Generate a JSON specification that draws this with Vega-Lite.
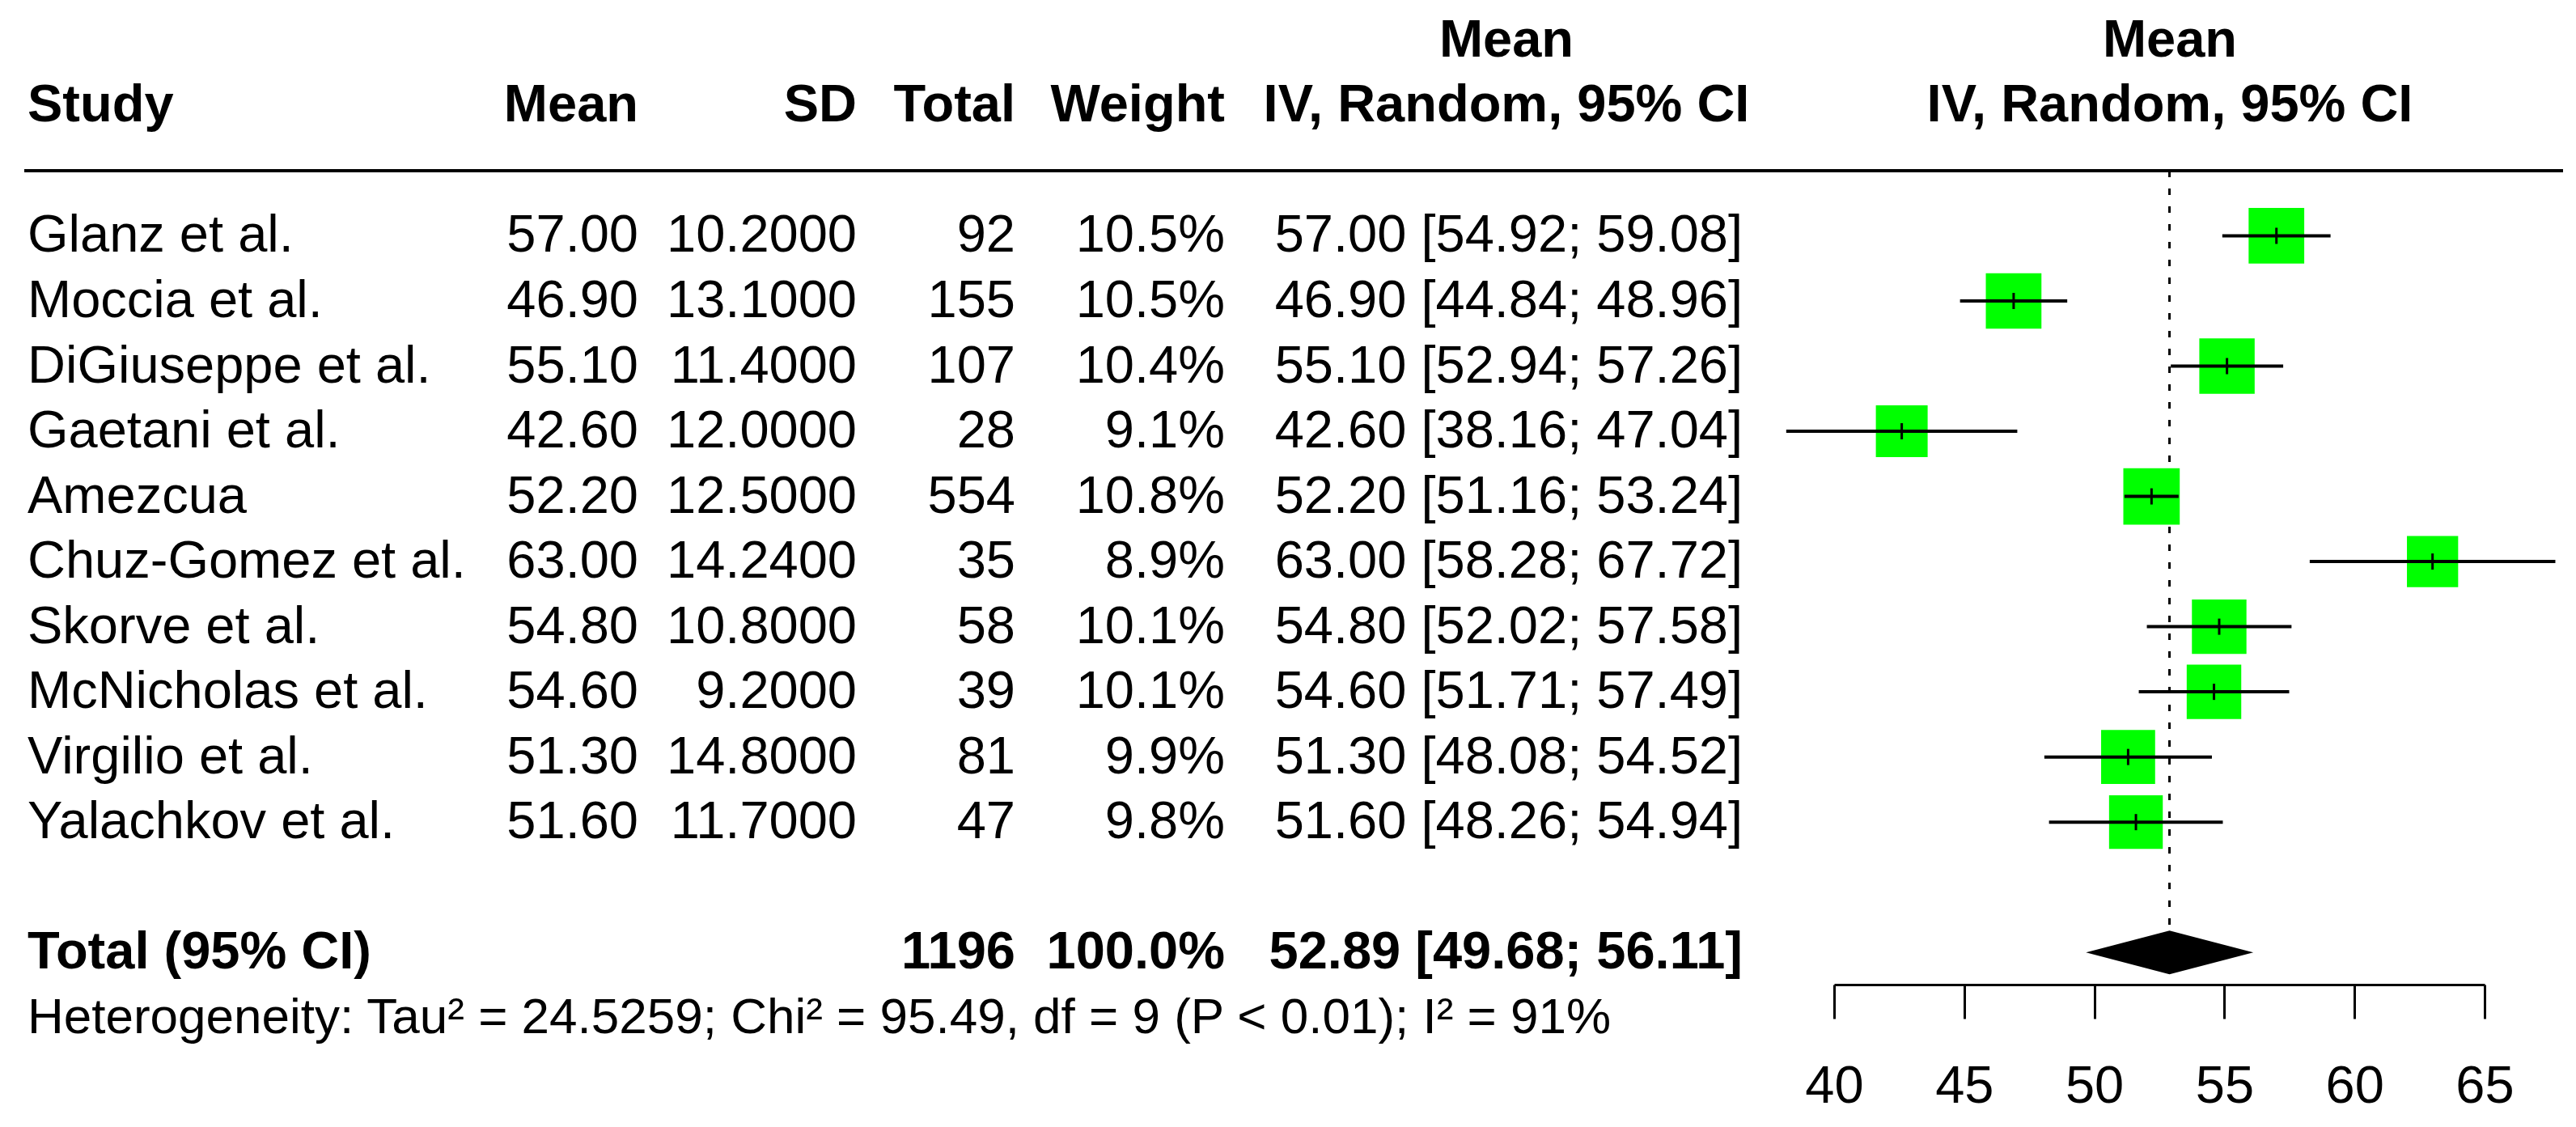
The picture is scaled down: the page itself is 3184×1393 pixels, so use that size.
{
  "$schema": "https://vega.github.io/schema/vega-lite/v6.json",
  "width": 3184,
  "height": 1393,
  "autosize": {"type": "fit", "contains": "padding"},
  "padding": {"left": 28, "right": 14, "top": 0, "bottom": 0},
  "background": "white",
  "config": {
    "view": {"stroke": null},
    "text": {"font": "Liberation Sans", "fontSize": 65, "color": "black"}
  },
  "datasets": {
    "studies": [
      {"study": "Glanz et al.", "mean": 57.00, "sd": 10.2, "n": 92, "weight": 0.105, "lo": 54.92, "hi": 59.08, "ci": "57.00 [54.92; 59.08]", "row": 0},
      {"study": "Moccia et al.", "mean": 46.90, "sd": 13.1, "n": 155, "weight": 0.105, "lo": 44.84, "hi": 48.96, "ci": "46.90 [44.84; 48.96]", "row": 1},
      {"study": "DiGiuseppe et al.", "mean": 55.10, "sd": 11.4, "n": 107, "weight": 0.104, "lo": 52.94, "hi": 57.26, "ci": "55.10 [52.94; 57.26]", "row": 2},
      {"study": "Gaetani et al.", "mean": 42.60, "sd": 12.0, "n": 28, "weight": 0.091, "lo": 38.16, "hi": 47.04, "ci": "42.60 [38.16; 47.04]", "row": 3},
      {"study": "Amezcua", "mean": 52.20, "sd": 12.5, "n": 554, "weight": 0.108, "lo": 51.16, "hi": 53.24, "ci": "52.20 [51.16; 53.24]", "row": 4},
      {"study": "Chuz-Gomez et al.", "mean": 63.00, "sd": 14.24, "n": 35, "weight": 0.089, "lo": 58.28, "hi": 67.72, "ci": "63.00 [58.28; 67.72]", "row": 5},
      {"study": "Skorve et al.", "mean": 54.80, "sd": 10.8, "n": 58, "weight": 0.101, "lo": 52.02, "hi": 57.58, "ci": "54.80 [52.02; 57.58]", "row": 6},
      {"study": "McNicholas et al.", "mean": 54.60, "sd": 9.2, "n": 39, "weight": 0.101, "lo": 51.71, "hi": 57.49, "ci": "54.60 [51.71; 57.49]", "row": 7},
      {"study": "Virgilio et al.", "mean": 51.30, "sd": 14.8, "n": 81, "weight": 0.099, "lo": 48.08, "hi": 54.52, "ci": "51.30 [48.08; 54.52]", "row": 8},
      {"study": "Yalachkov et al.", "mean": 51.60, "sd": 11.7, "n": 47, "weight": 0.098, "lo": 48.26, "hi": 54.94, "ci": "51.60 [48.26; 54.94]", "row": 9}
    ],
    "pooled": [
      {"label": "Total (95% CI)", "n": 1196, "weight": 1.0, "mean": 52.89, "lo": 49.68, "hi": 56.11, "ci": "52.89 [49.68; 56.11]", "row": 11}
    ],
    "diamond": [
      {"v": 49.68, "top": 11, "bottom": 11},
      {"v": 52.89, "top": 10.665, "bottom": 11.335},
      {"v": 56.11, "top": 11, "bottom": 11}
    ],
    "labels": [
      {"row": -2, "c": 0, "t": "Study", "part": "head"},
      {"row": -2, "c": 1, "t": "Mean", "part": "head"},
      {"row": -2, "c": 2, "t": "SD", "part": "head"},
      {"row": -2, "c": 3, "t": "Total", "part": "head"},
      {"row": -2, "c": 4, "t": "Weight", "part": "head"},
      {"row": -3, "c": 5, "t": "Mean", "part": "head"},
      {"row": -2, "c": 5, "t": "IV, Random, 95% CI", "part": "head"},
      {"row": -3, "c": 7, "t": "Mean", "part": "head"},
      {"row": -2, "c": 7, "t": "IV, Random, 95% CI", "part": "head"},
      {"row": 12, "c": 0, "t": "Heterogeneity: Tau² = 24.5259; Chi² = 95.49, df = 9 (P < 0.01); I² = 91%", "part": "note"}
    ]
  },
  "layer": [
    {
      "layer": [
        {
          "data": {"name": "studies"},
          "mark": {"type": "text", "align": "left"},
          "encoding": {
            "x": {"datum": 0, "type": "quantitative", "scale": {"domain": [0, 1, 2, 3, 4, 5, 6, 7], "range": [4, 759, 1029, 1225, 1484, 1832, 2124, 2652], "nice": false, "zero": false}, "axis": null},
            "y": {"field": "row", "type": "quantitative", "scale": {"domain": [-3.62, 13.68], "reverse": true, "nice": false, "zero": false}, "axis": null},
            "text": {"field": "study", "type": "nominal"}
          }
        },
        {
          "data": {"name": "studies"},
          "mark": {"type": "text", "align": "right"},
          "encoding": {
            "x": {"datum": 1, "type": "quantitative", "axis": null},
            "y": {"field": "row", "type": "quantitative", "axis": null},
            "text": {"field": "mean", "type": "quantitative", "format": ".2f"}
          }
        },
        {
          "data": {"name": "studies"},
          "mark": {"type": "text", "align": "right"},
          "encoding": {
            "x": {"datum": 2, "type": "quantitative", "axis": null},
            "y": {"field": "row", "type": "quantitative", "axis": null},
            "text": {"field": "sd", "type": "quantitative", "format": ".4f"}
          }
        },
        {
          "data": {"name": "studies"},
          "mark": {"type": "text", "align": "right"},
          "encoding": {
            "x": {"datum": 3, "type": "quantitative", "axis": null},
            "y": {"field": "row", "type": "quantitative", "axis": null},
            "text": {"field": "n", "type": "quantitative", "format": "d"}
          }
        },
        {
          "data": {"name": "studies"},
          "mark": {"type": "text", "align": "right"},
          "encoding": {
            "x": {"datum": 4, "type": "quantitative", "axis": null},
            "y": {"field": "row", "type": "quantitative", "axis": null},
            "text": {"field": "weight", "type": "quantitative", "format": ".1%"}
          }
        },
        {
          "data": {"name": "studies"},
          "mark": {"type": "text", "align": "right"},
          "encoding": {
            "x": {"datum": 6, "type": "quantitative", "axis": null},
            "y": {"field": "row", "type": "quantitative", "axis": null},
            "text": {"field": "ci", "type": "nominal"}
          }
        },
        {
          "data": {"name": "pooled"},
          "mark": {"type": "text", "align": "left", "fontWeight": "bold"},
          "encoding": {
            "x": {"datum": 0, "type": "quantitative", "axis": null},
            "y": {"field": "row", "type": "quantitative", "axis": null},
            "text": {"field": "label", "type": "nominal"}
          }
        },
        {
          "data": {"name": "pooled"},
          "mark": {"type": "text", "align": "right", "fontWeight": "bold"},
          "encoding": {
            "x": {"datum": 3, "type": "quantitative", "axis": null},
            "y": {"field": "row", "type": "quantitative", "axis": null},
            "text": {"field": "n", "type": "quantitative", "format": "d"}
          }
        },
        {
          "data": {"name": "pooled"},
          "mark": {"type": "text", "align": "right", "fontWeight": "bold"},
          "encoding": {
            "x": {"datum": 4, "type": "quantitative", "axis": null},
            "y": {"field": "row", "type": "quantitative", "axis": null},
            "text": {"field": "weight", "type": "quantitative", "format": ".1%"}
          }
        },
        {
          "data": {"name": "pooled"},
          "mark": {"type": "text", "align": "right", "fontWeight": "bold"},
          "encoding": {
            "x": {"datum": 6, "type": "quantitative", "axis": null},
            "y": {"field": "row", "type": "quantitative", "axis": null},
            "text": {"field": "ci", "type": "nominal"}
          }
        },
        {
          "data": {"name": "labels"},
          "transform": [{"filter": "datum.part == 'head' && datum.c == 0"}],
          "mark": {"type": "text", "align": "left", "fontWeight": "bold"},
          "encoding": {
            "x": {"field": "c", "type": "quantitative", "axis": null},
            "y": {"field": "row", "type": "quantitative", "axis": null},
            "text": {"field": "t", "type": "nominal"}
          }
        },
        {
          "data": {"name": "labels"},
          "transform": [{"filter": "datum.part == 'head' && datum.c >= 1 && datum.c <= 4"}],
          "mark": {"type": "text", "align": "right", "fontWeight": "bold"},
          "encoding": {
            "x": {"field": "c", "type": "quantitative", "axis": null},
            "y": {"field": "row", "type": "quantitative", "axis": null},
            "text": {"field": "t", "type": "nominal"}
          }
        },
        {
          "data": {"name": "labels"},
          "transform": [{"filter": "datum.part == 'head' && (datum.c == 5 || datum.c == 7)"}],
          "mark": {"type": "text", "align": "center", "fontWeight": "bold"},
          "encoding": {
            "x": {"field": "c", "type": "quantitative", "axis": null},
            "y": {"field": "row", "type": "quantitative", "axis": null},
            "text": {"field": "t", "type": "nominal"}
          }
        },
        {
          "data": {"name": "labels"},
          "transform": [{"filter": "datum.part == 'note'"}],
          "mark": {"type": "text", "align": "left", "fontSize": 62},
          "encoding": {
            "x": {"field": "c", "type": "quantitative", "axis": null},
            "y": {"field": "row", "type": "quantitative", "axis": null},
            "text": {"field": "t", "type": "nominal"}
          }
        },
        {
          "data": {"name": "pooled"},
          "mark": {"type": "rule", "color": "black", "strokeWidth": 4},
          "encoding": {
            "y": {"datum": -1, "type": "quantitative", "axis": null}
          }
        }
      ]
    },
    {
      "layer": [
        {
          "data": {"name": "pooled"},
          "mark": {"type": "rule", "color": "black", "strokeWidth": 3, "strokeDash": [8, 14]},
          "encoding": {
            "x": {"field": "mean", "type": "quantitative", "title": null, "scale": {"domain": [40, 65], "range": [2237, 3041], "nice": false, "zero": false},
              "axis": {"orient": "bottom", "offset": -176, "values": [40, 45, 50, 55, 60, 65], "tickSize": 42, "tickWidth": 3, "tickColor": "black", "domainWidth": 3, "domainColor": "black", "labelFont": "Liberation Sans", "labelFontSize": 65, "labelColor": "black", "labelPadding": 52, "labelFlush": false, "labelBound": false, "labelOverlap": false, "grid": false, "title": null, "format": "d"}},
            "y": {"datum": -1, "type": "quantitative", "axis": null},
            "y2": {"datum": 10.665}
          }
        },
        {
          "data": {"name": "studies"},
          "mark": {"type": "point", "shape": "square", "filled": true, "color": "#00ff00", "opacity": 1, "strokeWidth": 0},
          "encoding": {
            "x": {"field": "mean", "type": "quantitative", "title": null},
            "y": {"field": "row", "type": "quantitative", "axis": null},
            "size": {"field": "weight", "type": "quantitative", "scale": {"domain": [0, 0.1], "range": [0, 4500]}, "legend": null}
          }
        },
        {
          "data": {"name": "studies"},
          "mark": {"type": "rule", "color": "black", "strokeWidth": 4},
          "encoding": {
            "x": {"field": "lo", "type": "quantitative", "title": null},
            "x2": {"field": "hi"},
            "y": {"field": "row", "type": "quantitative", "axis": null}
          }
        },
        {
          "data": {"name": "studies"},
          "mark": {"type": "tick", "orient": "vertical", "size": 20, "thickness": 3, "color": "black", "opacity": 1},
          "encoding": {
            "x": {"field": "mean", "type": "quantitative", "title": null},
            "y": {"field": "row", "type": "quantitative", "axis": null}
          }
        },
        {
          "data": {"name": "diamond"},
          "mark": {"type": "area", "orient": "vertical", "color": "black", "opacity": 1},
          "encoding": {
            "x": {"field": "v", "type": "quantitative", "title": null},
            "y": {"field": "top", "type": "quantitative", "axis": null},
            "y2": {"field": "bottom"}
          }
        }
      ]
    }
  ],
  "resolve": {"scale": {"x": "independent"}, "axis": {"x": "independent"}}
}
